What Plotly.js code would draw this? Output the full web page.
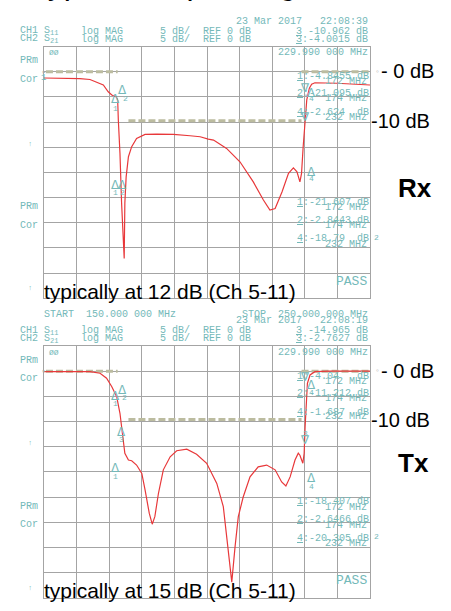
<!DOCTYPE html>
<html><head><meta charset="utf-8">
<script src="https://cdn.plot.ly/plotly-3.0.1.min.js"></script>
<style>html,body{margin:0;padding:0;background:#fff;overflow:hidden}#chart{width:451px;height:611px}</style>
</head><body><div id="chart"></div>
<script>
// ---------- data ----------
const rxFreq = [150, 158, 161, 164.1, 166, 168.2, 169.7, 170.8, 172.1, 172.6, 172.8, 173.3, 173.8, 174.3, 174.6, 174.8, 175.2, 175.9, 176.9, 178.4, 181.0, 184.6, 189.7, 194.8, 197.9, 200.4, 202.0, 206.0, 210.1, 214.2, 217.3, 219.3, 220.9, 223.0, 225.0, 226.5, 227.6, 228.5, 229.0, 229.5, 230.1, 230.6, 231.4, 232.1, 233.1, 239.8, 250];
const rxDb = [-1.26, -1.26, -1.4, -1.55, -2.0, -2.65, -3.99, -4.64, -4.98, -5.64, -9.6, -16.2, -26.1, -34.8, -37.1, -26.1, -20.9, -16.9, -14.9, -13.25, -12.46, -12.4, -12.46, -12.73, -12.93, -13.39, -13.59, -15.24, -17.9, -21.9, -25.5, -27.5, -27.2, -23.9, -20.2, -19.1, -19.9, -21.9, -20.2, -14.9, -9.6, -5.6, -3.3, -2.5, -2.2, -2.3, -2.65];
const txFreq = [150, 164.1, 167.2, 169.2, 170.8, 172.3, 173.3, 174.0, 174.8, 175.9, 176.9, 178.4, 180.0, 181.0, 182.3, 183.2, 184.0, 185.1, 186.6, 188.7, 190.7, 193.8, 196.8, 199.9, 203.0, 205.0, 206.5, 207.6, 208.6, 209.6, 210.1, 211.1, 213.2, 215.7, 218.3, 220.9, 222.9, 224.2, 225.5, 227.0, 228.0, 228.5, 229.4, 229.8, 230.1, 230.4, 230.8, 231.6, 233.1, 237.7, 250];
const txDb = [-0.1, -0.1, -0.42, -1.41, -3.08, -5.07, -8.37, -12.0, -16.3, -17.65, -17.8, -18.65, -20.3, -23.6, -28.25, -30.4, -28.9, -24.3, -19.6, -17.0, -15.8, -15.5, -16.5, -18.3, -22.3, -26.9, -34.9, -41.9, -34.9, -28.9, -27.6, -25.0, -21.0, -19.0, -18.65, -19.6, -22.0, -22.8, -21.0, -17.65, -16.3, -16.7, -18.3, -16.3, -11.0, -5.7, -2.4, -0.76, -0.1, 0, 0];
const limitFreq = [150.6, 172.6, null, 175.9, 229.0, null, 229.0, 250];
const rxLimitDb = [0, 0, null, -9.75, -9.75, null, 0, 0];
const txLimitDb = [0, 0, null, -9.6, -9.6, null, 0, 0];

const rxStatus = ['23 Mar 2017   22:08:39', '<u>3</u> -10.962 dB', '<u>3</u>:-4.0015 dB'];
const txStatus = ['23 Mar 2017   22:08:19', '<u>3</u> -14.965 dB', '<u>3</u>:-2.7627 dB'];
const channelRows = ['CH1 S<sub>11</sub>', 'CH2 S<sub>21</sub>'];
const formatCols = ['log MAG', '5 dB/', 'REF 0 dB'];
const markerFreqs = ['172 MHz', '174 MHz', '232 MHz'];
const rxReadA = ['<u>1</u>:-4.8455 dB', '<u>2</u>:-21.095 dB', '<u>4</u>:-2.624  dB'];
const rxReadB = ['<u>1</u>:-21.607 dB', '<u>2</u>:-2.8443 dB', '<u>4</u>:-18.79  dB'];
const txReadA = ['<u>1</u>:-4.04   dB', '<u>2</u>:-11.212 dB', '<u>4</u>:-1.687  dB'];
const txReadB = ['<u>1</u>:-18.407 dB', '<u>2</u>:-2.6466 dB', '<u>4</u>:-20.305 dB'];
const centerFreq = '229.990 000 MHz';
const sweepLabels = ['START  150.000 000 MHz', 'STOP  250.000 000 MHz'];
const levelLabels = ['- 0 dB', '-10 dB'];
const panelNames = ['Rx', 'Tx'];
const notes = ['typically at 12 dB (Ch 5-11)', 'typically at 15 dB (Ch 5-11)'];

// ---------- layout helpers ----------
const W = 451, H = 611;
const TEAL = '#74b9b9', GRID = '#a4a4a4', RED = '#e8383a', LIM = '#bcbca0';
const MONO = 'Liberation Mono, DejaVu Sans Mono, monospace';
const SANS = 'Liberation Sans, Arial, sans-serif';
const annotations = [];
function ann(text, x, y, o) {
  o = o || {};
  annotations.push({text: text, x: x / W, y: 1 - y / H, xref: 'paper', yref: 'paper',
    xanchor: o.xa || 'left', yanchor: 'middle', showarrow: false, borderpad: 0,
    font: {family: o.f || MONO, size: o.s || 10, color: o.c || TEAL, weight: o.w || 'normal'}});
}

function panel(pt, status, readA, readB, markers, idx) {
  ann(status[0], 369, pt - 25.5, {xa: 'right'});
  ann(channelRows[0], 19, pt - 15.5);
  ann(channelRows[1], 19, pt - 7.3);
  [80, 159, 202].forEach((x, i) => { ann(formatCols[i], x, pt - 15.5); ann(formatCols[i], x, pt - 7.3); });
  ann(status[1], 369, pt - 15.5, {xa: 'right'});
  ann(status[2], 369, pt - 7.3, {xa: 'right'});
  ann(centerFreq, 369, pt + 6.5, {xa: 'right'});
  ann('ØØ', 48, pt + 6, {s: 8});
  ann('PRm', 19, pt + 14.5); ann('Cor', 19, pt + 32.5);
  ann('PRm', 19, pt + 160.5); ann('Cor', 19, pt + 178.7);
  ann('↑', 27, pt + 97, {s: 7}); ann('↑', 27, pt + 241.5, {s: 7});
  ann('PASS', 368, pt + 234.5, {xa: 'right', s: 13});
  ann('▸', 40.5, pt + 25, {s: 7, c: '#aaa'}); ann('◦', 374, pt + 24.7, {s: 8, c: '#aaa'});
  [30.3, 47.3, 66].forEach((d, i) => { ann(readA[i], 370, pt + d, {xa: 'right'}); ann(markerFreqs[i], 368, pt + d + 4.8, {xa: 'right'}); });
  [155.8, 173.7, 192].forEach((d, i) => { ann(readB[i], 370, pt + d, {xa: 'right'}); ann(markerFreqs[i], 368, pt + d + 5.6, {xa: 'right'}); });
  ann('2', 373, pt + 190.5, {s: 8});
  markers.forEach(m => {
    ann(m[2], m[0], m[1], {f: 'DejaVu Sans', s: 12, xa: 'center'});
    if (m[3]) ann(m[3], m[0] + m[4], m[1] + m[5], {s: 8, xa: 'center'});
  });
  ann(levelLabels[0], 380, pt + 24.8, {f: SANS, s: 20, c: '#000'});
  ann(levelLabels[1], 370, pt + 74, {f: SANS, s: 20, c: '#000'});
  ann('<b>' + panelNames[idx] + '</b>', 397, pt + 141.2 - (idx ? 24 : 0), {f: SANS, s: 26, c: '#000'});
  ann(notes[idx], 43, pt + 244.6, {f: SANS, s: 21, c: '#000'});
}

const rxTop = 46.5, txTop = 346;
panel(rxTop, rxStatus, rxReadA, rxReadB, [
  [115, 99, 'Δ', '1', 0, 9], [122.7, 90, 'Δ', '2', 2.5, 8],
  [115, 185, 'Δ', '1', 0, 8], [122.5, 185, 'Δ', '2', 0, 7],
  [305, 87.5, '∇', '', 0, 0], [311.7, 93, 'Δ', '4', 0, 5],
  [305, 117.5, '∇', '', 0, 0], [311.7, 171.7, 'Δ', '4', 0, 7]], 0);
panel(txTop, txStatus, txReadA, txReadB, [
  [122.7, 390, 'Δ', '2', 2, 7], [115, 395.5, 'Δ', '1', 0, 8],
  [121.7, 432, 'Δ', '3', 0, 7.5], [115, 468.3, 'Δ', '1', 0, 8.4],
  [305, 377, '∇', '', 0, 0], [311.7, 385, 'Δ', '4', 0, 7],
  [305, 440, '∇', '3', 0, -7], [311.7, 478.3, 'Δ', '4', 0, 8.4]], 1);
ann('1', 40, 78, {s: 9});
ann(sweepLabels[0], 43, 314);
ann(sweepLabels[1], 369, 314, {xa: 'right'});
ann('Typical Rx passing band', 29, -17, {f: SANS, s: 32, c: '#000'});

// ---------- traces ----------
const traces = [
  {x: limitFreq, y: rxLimitDb, xaxis: 'x', yaxis: 'y', mode: 'lines', line: {color: LIM, width: 3, dash: '7px,3px'}, hoverinfo: 'skip'},
  {x: rxFreq, y: rxDb, xaxis: 'x', yaxis: 'y', mode: 'lines', line: {color: RED, width: 1.2}},
  {x: limitFreq, y: txLimitDb, xaxis: 'x2', yaxis: 'y2', mode: 'lines', line: {color: LIM, width: 3, dash: '7px,3px'}, hoverinfo: 'skip'},
  {x: txFreq, y: txDb, xaxis: 'x2', yaxis: 'y2', mode: 'lines', line: {color: RED, width: 1.2}}
];
function xax(anchor) {
  return {domain: [44 / W, 370 / W], range: [150, 250], anchor: anchor, tick0: 150, dtick: 10,
    showgrid: true, gridcolor: GRID, gridwidth: 1, zeroline: false, showticklabels: false, ticks: '',
    showline: true, linecolor: GRID, linewidth: 1, mirror: true, fixedrange: true};
}
function yax(anchor, top, bottom) {
  return {domain: [1 - bottom / H, 1 - top / H], range: [-45, 5], anchor: anchor, tick0: 0, dtick: 5,
    showgrid: true, gridcolor: GRID, gridwidth: 1, zeroline: false, showticklabels: false, ticks: '',
    showline: true, linecolor: GRID, linewidth: 1, mirror: true, fixedrange: true};
}
const layout = {
  width: W, height: H, margin: {l: 0, r: 0, t: 0, b: 0},
  paper_bgcolor: '#fff', plot_bgcolor: 'rgba(0,0,0,0)', showlegend: false,
  xaxis: xax('y'), yaxis: yax('x', rxTop, 298.2),
  xaxis2: xax('y2'), yaxis2: yax('x2', txTop, 597.7),
  annotations: annotations
};
Plotly.newPlot('chart', traces, layout, {staticPlot: true, displayModeBar: false});
</script></body></html>
